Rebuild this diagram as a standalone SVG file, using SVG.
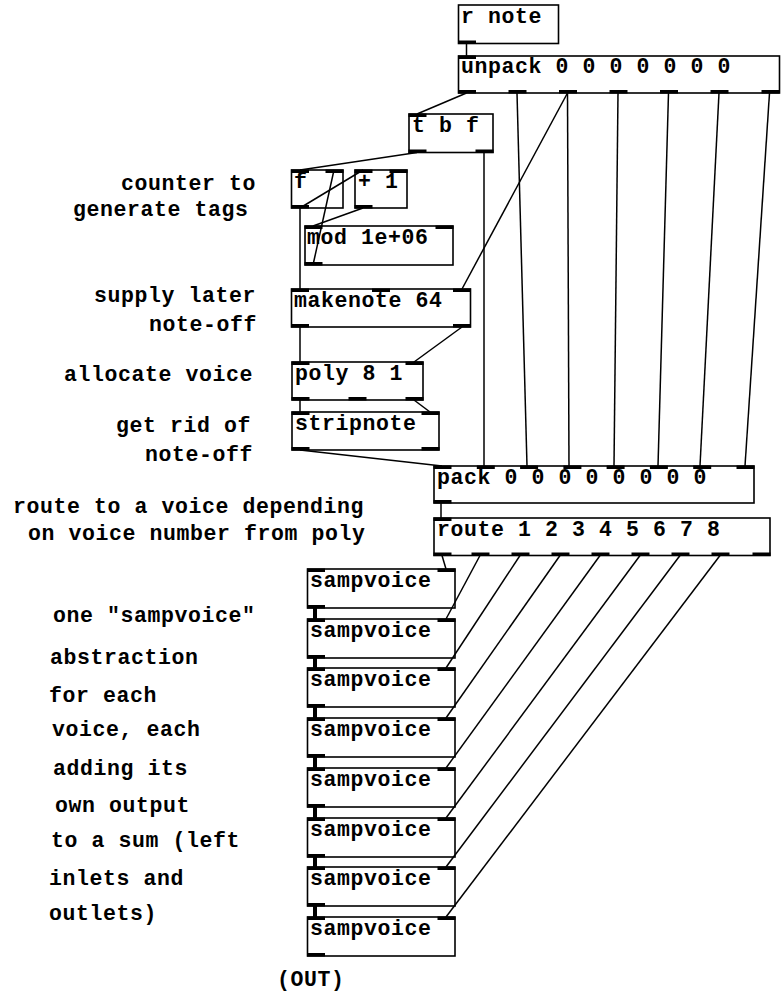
<svg xmlns="http://www.w3.org/2000/svg" width="783" height="993" viewBox="0 0 783 993">
<style>
.bg{fill:#fff}
.box{fill:none;stroke:#000;stroke-width:1.6}
.io{fill:#000}
.t{font-family:"Liberation Mono","DejaVu Sans Mono",monospace;font-weight:bold;font-size:21.5px;letter-spacing:0.6px;fill:#000}
.c{stroke:#000;stroke-width:1.5;fill:none}
.s{stroke:#000;stroke-width:4;fill:none}
</style>
<rect class="bg" x="0" y="0" width="783" height="993"/>
<g id="connectors">
<line class="c" x1="466.5" y1="43" x2="466.5" y2="56"/>
<line class="c" x1="466.5" y1="93" x2="417" y2="114"/>
<line class="c" x1="517" y1="93" x2="527" y2="466"/>
<line class="c" x1="567.5" y1="93" x2="569" y2="466"/>
<line class="c" x1="618" y1="93" x2="614" y2="466"/>
<line class="c" x1="668.5" y1="93" x2="658" y2="466"/>
<line class="c" x1="719" y1="93" x2="700" y2="466"/>
<line class="c" x1="769.5" y1="93" x2="745" y2="466"/>
<line class="c" x1="567.5" y1="93" x2="462" y2="289"/>
<line class="c" x1="417" y1="152.5" x2="300" y2="170"/>
<line class="c" x1="484" y1="152.5" x2="484" y2="466"/>
<line class="c" x1="300" y1="208" x2="363" y2="170"/>
<line class="c" x1="300" y1="208" x2="300" y2="289"/>
<line class="c" x1="363" y1="208" x2="313" y2="226"/>
<line class="c" x1="313" y1="265" x2="334" y2="170"/>
<line class="c" x1="300" y1="327" x2="300" y2="362"/>
<line class="c" x1="462" y1="327" x2="414" y2="362"/>
<line class="c" x1="300" y1="400" x2="300" y2="412"/>
<line class="c" x1="414" y1="400" x2="430" y2="412"/>
<line class="c" x1="300" y1="450" x2="442" y2="466"/>
<line class="c" x1="441" y1="503" x2="441" y2="518"/>
<line class="c" x1="442" y1="555.5" x2="446" y2="569"/>
<line class="c" x1="480" y1="555.5" x2="446" y2="619"/>
<line class="c" x1="520" y1="555.5" x2="446" y2="668"/>
<line class="c" x1="560" y1="555.5" x2="446" y2="718"/>
<line class="c" x1="600" y1="555.5" x2="446" y2="768"/>
<line class="c" x1="640" y1="555.5" x2="446" y2="818"/>
<line class="c" x1="680" y1="555.5" x2="446" y2="867"/>
<line class="c" x1="720" y1="555.5" x2="446" y2="917"/>
<line class="s" x1="315" y1="608" x2="315" y2="619"/>
<line class="s" x1="315" y1="658" x2="315" y2="668"/>
<line class="s" x1="315" y1="707" x2="315" y2="718"/>
<line class="s" x1="315" y1="757" x2="315" y2="768"/>
<line class="s" x1="315" y1="807" x2="315" y2="818"/>
<line class="s" x1="315" y1="857" x2="315" y2="867"/>
<line class="s" x1="315" y1="906" x2="315" y2="917"/>
</g>
<g id="rnote">
<rect class="box" x="458.5" y="5" width="100" height="38.5"/>
<rect class="io" x="458" y="40.5" width="18" height="3.5"/>
<text class="t" x="461" y="23">r note</text>
</g>
<g id="unpack">
<rect class="box" x="458.5" y="56" width="321" height="37"/>
<rect class="io" x="458" y="55.5" width="18" height="3.5"/>
<rect class="io" x="458" y="90" width="18" height="3.5"/>
<rect class="io" x="508.5" y="90" width="18" height="3.5"/>
<rect class="io" x="559" y="90" width="18" height="3.5"/>
<rect class="io" x="609.5" y="90" width="18" height="3.5"/>
<rect class="io" x="660" y="90" width="18" height="3.5"/>
<rect class="io" x="710.5" y="90" width="18" height="3.5"/>
<rect class="io" x="761.5" y="90" width="18" height="3.5"/>
<text class="t" x="461" y="73">unpack 0 0 0 0 0 0 0</text>
</g>
<g id="tbf">
<rect class="box" x="409" y="114" width="84" height="38.5"/>
<rect class="io" x="408.5" y="113.5" width="18" height="3.5"/>
<rect class="io" x="408.5" y="149.5" width="18" height="3.5"/>
<rect class="io" x="475.5" y="149.5" width="18" height="3.5"/>
<text class="t" x="412" y="132">t b f</text>
</g>
<g id="f">
<rect class="box" x="291.5" y="170" width="51.5" height="38"/>
<rect class="io" x="291" y="169.5" width="18" height="3.5"/>
<rect class="io" x="325.5" y="169.5" width="18" height="3.5"/>
<rect class="io" x="291" y="205" width="18" height="3.5"/>
<text class="t" x="294" y="188">f</text>
</g>
<g id="plus1">
<rect class="box" x="355" y="170" width="52" height="38"/>
<rect class="io" x="354.5" y="169.5" width="18" height="3.5"/>
<rect class="io" x="389.5" y="169.5" width="18" height="3.5"/>
<rect class="io" x="354.5" y="205" width="18" height="3.5"/>
<text class="t" x="358" y="188">+ 1</text>
</g>
<g id="mod">
<rect class="box" x="305" y="226" width="148" height="39"/>
<rect class="io" x="304.5" y="225.5" width="18" height="3.5"/>
<rect class="io" x="435.5" y="225.5" width="18" height="3.5"/>
<rect class="io" x="304.5" y="262" width="18" height="3.5"/>
<text class="t" x="307" y="244">mod 1e+06</text>
</g>
<g id="makenote">
<rect class="box" x="291.5" y="289" width="179" height="38"/>
<rect class="io" x="291" y="288.5" width="18" height="3.5"/>
<rect class="io" x="372" y="288.5" width="18" height="3.5"/>
<rect class="io" x="453" y="288.5" width="18" height="3.5"/>
<rect class="io" x="291" y="324" width="18" height="3.5"/>
<rect class="io" x="453" y="324" width="18" height="3.5"/>
<text class="t" x="294" y="307">makenote 64</text>
</g>
<g id="poly">
<rect class="box" x="292" y="362" width="131" height="38"/>
<rect class="io" x="291.5" y="361.5" width="18" height="3.5"/>
<rect class="io" x="405.5" y="361.5" width="18" height="3.5"/>
<rect class="io" x="291.5" y="397" width="18" height="3.5"/>
<rect class="io" x="348.5" y="397" width="18" height="3.5"/>
<rect class="io" x="405.5" y="397" width="18" height="3.5"/>
<text class="t" x="295" y="380">poly 8 1</text>
</g>
<g id="stripnote">
<rect class="box" x="292" y="412" width="147" height="38"/>
<rect class="io" x="291.5" y="411.5" width="18" height="3.5"/>
<rect class="io" x="421.5" y="411.5" width="18" height="3.5"/>
<rect class="io" x="291.5" y="447" width="18" height="3.5"/>
<rect class="io" x="421.5" y="447" width="18" height="3.5"/>
<text class="t" x="295" y="430">stripnote</text>
</g>
<g id="pack">
<rect class="box" x="434" y="466" width="320" height="37"/>
<rect class="io" x="433.5" y="465.5" width="18" height="3.5"/>
<rect class="io" x="476.8" y="465.5" width="18" height="3.5"/>
<rect class="io" x="520.1" y="465.5" width="18" height="3.5"/>
<rect class="io" x="563.4" y="465.5" width="18" height="3.5"/>
<rect class="io" x="606.6" y="465.5" width="18" height="3.5"/>
<rect class="io" x="649.9" y="465.5" width="18" height="3.5"/>
<rect class="io" x="693.2" y="465.5" width="18" height="3.5"/>
<rect class="io" x="736.5" y="465.5" width="18" height="3.5"/>
<rect class="io" x="433.5" y="500" width="18" height="3.5"/>
<text class="t" x="437" y="484">pack 0 0 0 0 0 0 0 0</text>
</g>
<g id="route">
<rect class="box" x="434" y="518" width="336" height="37.5"/>
<rect class="io" x="433.5" y="517.5" width="18" height="3.5"/>
<rect class="io" x="433.5" y="552.5" width="18" height="3.5"/>
<rect class="io" x="471.5" y="552.5" width="18" height="3.5"/>
<rect class="io" x="511.5" y="552.5" width="18" height="3.5"/>
<rect class="io" x="551.5" y="552.5" width="18" height="3.5"/>
<rect class="io" x="591.5" y="552.5" width="18" height="3.5"/>
<rect class="io" x="631.5" y="552.5" width="18" height="3.5"/>
<rect class="io" x="671.5" y="552.5" width="18" height="3.5"/>
<rect class="io" x="711.5" y="552.5" width="18" height="3.5"/>
<rect class="io" x="752.5" y="552.5" width="18" height="3.5"/>
<text class="t" x="437" y="536">route 1 2 3 4 5 6 7 8</text>
</g>
<g id="sampvoice1">
<rect class="box" x="307.5" y="569" width="147.5" height="39"/>
<rect class="io" x="307" y="568.5" width="18" height="3.5"/>
<rect class="io" x="437.5" y="568.5" width="18" height="3.5"/>
<rect class="io" x="307" y="605" width="18" height="3.5"/>
<text class="t" x="310" y="587">sampvoice</text>
</g>
<g id="sampvoice2">
<rect class="box" x="307.5" y="619" width="147.5" height="39"/>
<rect class="io" x="307" y="618.5" width="18" height="3.5"/>
<rect class="io" x="437.5" y="618.5" width="18" height="3.5"/>
<rect class="io" x="307" y="655" width="18" height="3.5"/>
<text class="t" x="310" y="637">sampvoice</text>
</g>
<g id="sampvoice3">
<rect class="box" x="307.5" y="668" width="147.5" height="39"/>
<rect class="io" x="307" y="667.5" width="18" height="3.5"/>
<rect class="io" x="437.5" y="667.5" width="18" height="3.5"/>
<rect class="io" x="307" y="704" width="18" height="3.5"/>
<text class="t" x="310" y="686">sampvoice</text>
</g>
<g id="sampvoice4">
<rect class="box" x="307.5" y="718" width="147.5" height="39"/>
<rect class="io" x="307" y="717.5" width="18" height="3.5"/>
<rect class="io" x="437.5" y="717.5" width="18" height="3.5"/>
<rect class="io" x="307" y="754" width="18" height="3.5"/>
<text class="t" x="310" y="736">sampvoice</text>
</g>
<g id="sampvoice5">
<rect class="box" x="307.5" y="768" width="147.5" height="39"/>
<rect class="io" x="307" y="767.5" width="18" height="3.5"/>
<rect class="io" x="437.5" y="767.5" width="18" height="3.5"/>
<rect class="io" x="307" y="804" width="18" height="3.5"/>
<text class="t" x="310" y="786">sampvoice</text>
</g>
<g id="sampvoice6">
<rect class="box" x="307.5" y="818" width="147.5" height="39"/>
<rect class="io" x="307" y="817.5" width="18" height="3.5"/>
<rect class="io" x="437.5" y="817.5" width="18" height="3.5"/>
<rect class="io" x="307" y="854" width="18" height="3.5"/>
<text class="t" x="310" y="836">sampvoice</text>
</g>
<g id="sampvoice7">
<rect class="box" x="307.5" y="867" width="147.5" height="39"/>
<rect class="io" x="307" y="866.5" width="18" height="3.5"/>
<rect class="io" x="437.5" y="866.5" width="18" height="3.5"/>
<rect class="io" x="307" y="903" width="18" height="3.5"/>
<text class="t" x="310" y="885">sampvoice</text>
</g>
<g id="sampvoice8">
<rect class="box" x="307.5" y="917" width="147.5" height="39"/>
<rect class="io" x="307" y="916.5" width="18" height="3.5"/>
<rect class="io" x="437.5" y="916.5" width="18" height="3.5"/>
<rect class="io" x="307" y="953" width="18" height="3.5"/>
<text class="t" x="310" y="935">sampvoice</text>
</g>
<g id="comments">
<text class="t" x="121" y="190">counter to</text>
<text class="t" x="73" y="216">generate tags</text>
<text class="t" x="94" y="302">supply later</text>
<text class="t" x="149" y="331">note-off</text>
<text class="t" x="64" y="381">allocate voice</text>
<text class="t" x="116" y="432">get rid of</text>
<text class="t" x="145" y="461">note-off</text>
<text class="t" x="13" y="513">route to a voice depending</text>
<text class="t" x="28" y="540">on voice number from poly</text>
<text class="t" x="53" y="622">one "sampvoice"</text>
<text class="t" x="50" y="664">abstraction</text>
<text class="t" x="49" y="702">for each</text>
<text class="t" x="52" y="736">voice, each</text>
<text class="t" x="53" y="775">adding its</text>
<text class="t" x="55" y="812">own output</text>
<text class="t" x="51" y="847">to a sum (left</text>
<text class="t" x="49" y="885">inlets and</text>
<text class="t" x="49" y="920">outlets)</text>
<text class="t" x="277" y="986">(OUT)</text>
</g>
</svg>
